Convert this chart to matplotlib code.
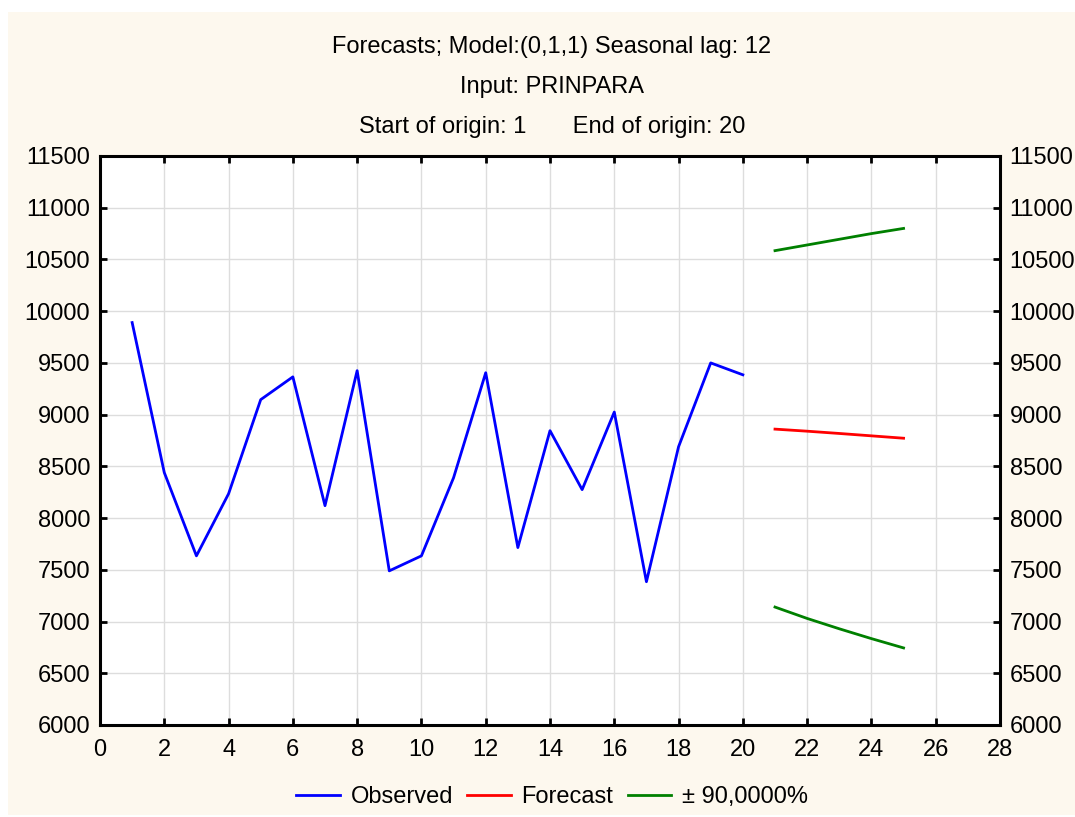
import matplotlib
matplotlib.use("Agg")
import matplotlib.pyplot as plt
from matplotlib.patches import Rectangle

plt.rcParams["font.family"] = ["Liberation Sans", "DejaVu Sans"]

# Dados
obs_x = list(range(1, 21))
observed = [9890, 8440, 7635, 8235, 9145, 9365, 8120, 9425, 7490, 7635,
            8390, 9405, 7715, 8845, 8275, 9025, 7385, 8690, 9500, 9385]
fc_x = [21, 22, 23, 24, 25]
forecast = [8860, 8840, 8818, 8795, 8772]
upper = [10585, 10640, 10695, 10750, 10800]
lower = [7140, 7030, 6930, 6835, 6745]

x_ticks = list(range(0, 29, 2))
y_ticks = list(range(6000, 11501, 500))

cream = "#fdf8ee"
W, H = 1075, 817
fs = 17

fig = plt.figure(figsize=(W / 100, H / 100), dpi=100, facecolor="white")
# fundo creme com margem branca
fig.patches.append(Rectangle((8 / W, 2 / H), 1 - 8 / W, 1 - 14 / H,
                             transform=fig.transFigure, facecolor=cream,
                             edgecolor="none", zorder=-10))

ax = fig.add_axes([100 / W, 92 / H, 900 / W, 569 / H])
ax.set_facecolor("white")

ax.plot(obs_x, observed, color="blue", linewidth=2, label="Observed")
ax.plot(fc_x, forecast, color="red", linewidth=2, label="Forecast")
ax.plot(fc_x, upper, color="green", linewidth=2, label="± 90,0000%")
ax.plot(fc_x, lower, color="green", linewidth=2)

ax.set_xlim(0, 28)
ax.set_ylim(6000, 11500)
ax.set_xticks(x_ticks)
ax.set_yticks(y_ticks)
ax.grid(True, color="#dddddd", linewidth=1)
ax.set_axisbelow(True)

for sp in ax.spines.values():
    sp.set_linewidth(2.2)
    sp.set_color("black")

ax.tick_params(direction="in", length=5, width=2, labelsize=fs,
               top=True, right=True, pad=7)
ax.tick_params(axis="x", pad=10)

ax2 = ax.twinx()
ax2.set_ylim(6000, 11500)
ax2.set_yticks(y_ticks)
ax2.tick_params(direction="in", length=5, width=2, labelsize=fs, pad=7)
for sp in ax2.spines.values():
    sp.set_visible(False)

# Títulos
title_kw = dict(ha="center", va="center", fontsize=fs, color="black")
cx = 552 / W
fig.text(cx, 1 - 47 / H, "Forecasts; Model:(0,1,1) Seasonal lag: 12", **title_kw)
fig.text(cx, 1 - 87 / H, "Input: PRINPARA", **title_kw)
fig.text(cx, 1 - 127 / H, "Start of origin: 1       End of origin: 20", **title_kw)

handles, labels = ax.get_legend_handles_labels()
fig.legend(handles, labels, loc="center", bbox_to_anchor=(552 / W, 1 - 797 / H),
           ncol=3, frameon=False, fontsize=fs, handlelength=1.85,
           columnspacing=0.6, handletextpad=0.45)

fig.savefig("out.png", dpi=100, facecolor=fig.get_facecolor())
